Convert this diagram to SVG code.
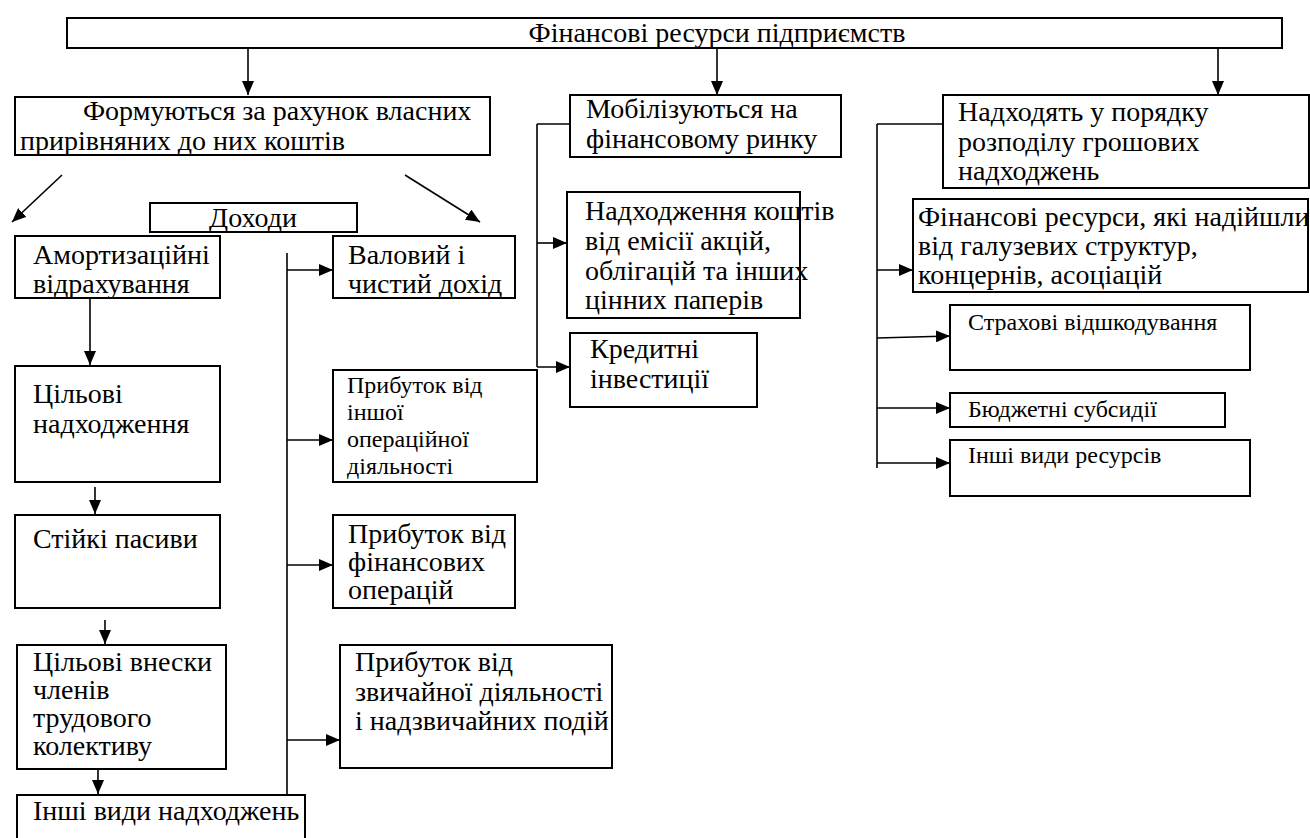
<svg xmlns="http://www.w3.org/2000/svg" width="1310" height="838" viewBox="0 0 1310 838">
<defs>
<marker id="ah" markerUnits="userSpaceOnUse" markerWidth="14" markerHeight="12" refX="14" refY="6" orient="auto"><path d="M0,0 L14,6 L0,12 z" fill="#000"/></marker>
<style>
.n rect{fill:#fff;stroke:#000;stroke-width:2}
.n text{font-family:"Liberation Serif","Times New Roman",serif;font-size:28px;fill:#000}
.n .s text{font-size:24px}
#connectors line{stroke:#000;stroke-width:1.6;fill:none}
#connectors .a line{marker-end:url(#ah)}
</style>
</defs>
<rect width="1310" height="838" fill="#fff"/>
<g id="connectors">
<g class="a">
<line x1="248" y1="48" x2="248" y2="95"/>
<line x1="717" y1="48" x2="717" y2="95"/>
<line x1="1218" y1="48" x2="1218" y2="95"/>
<line x1="62" y1="175" x2="12" y2="222"/>
<line x1="405" y1="175" x2="480" y2="222"/>
<line x1="90" y1="298" x2="90" y2="365"/>
<line x1="95" y1="487" x2="95" y2="514"/>
<line x1="105" y1="620" x2="105" y2="644"/>
<line x1="98" y1="770" x2="98" y2="794"/>
<line x1="287" y1="270" x2="333" y2="270"/>
<line x1="287" y1="440" x2="333" y2="440"/>
<line x1="287" y1="565" x2="333" y2="565"/>
<line x1="287" y1="740" x2="340" y2="740"/>
<line x1="537" y1="243" x2="567" y2="243"/>
<line x1="537" y1="367" x2="570" y2="367"/>
<line x1="877" y1="270" x2="913" y2="270"/>
<line x1="877" y1="338" x2="950" y2="336"/>
<line x1="877" y1="408" x2="950" y2="408"/>
<line x1="877" y1="463" x2="950" y2="463"/>
</g>
<line x1="287" y1="253" x2="287" y2="796"/>
<line x1="537" y1="124" x2="537" y2="367"/>
<line x1="537" y1="124" x2="570" y2="124"/>
<line x1="877" y1="124" x2="877" y2="468"/>
<line x1="877" y1="124" x2="943" y2="124"/>
</g>
<g class="n">
<g id="top"><rect x="67" y="18" width="1215" height="30"/><text x="717" y="42" text-anchor="middle">Фінансові ресурси підприємств</text></g>
<g id="own"><rect x="15" y="97" width="475" height="58"/><text x="83" y="120">Формуються за рахунок власних</text><text x="20" y="150">прирівняних до них коштів</text></g>
<g id="income"><rect x="150" y="203" width="207" height="29"/><text x="253" y="227" text-anchor="middle">Доходи</text></g>
<g id="amort"><rect x="15" y="236" width="205" height="62"/><text x="33" y="264">Амортизаційні</text><text x="33" y="293">відрахування</text></g>
<g id="target"><rect x="15" y="366" width="205" height="116"/><text x="33" y="403">Цільові</text><text x="33" y="433">надходження</text></g>
<g id="stable"><rect x="15" y="515" width="205" height="93"/><text x="33" y="548">Стійкі пасиви</text></g>
<g id="contrib"><rect x="17" y="645" width="209" height="124"/><text x="33" y="671">Цільові внески</text><text x="33" y="699">членів</text><text x="33" y="727">трудового</text><text x="33" y="755">колективу</text></g>
<g id="other-in"><rect x="17" y="795" width="288" height="50"/><text x="33" y="820">Інші види надходжень</text></g>
<g id="gross"><rect x="333" y="236" width="182" height="62"/><text x="348" y="264">Валовий і</text><text x="348" y="293">чистий дохід</text></g>
<g id="op" class="s"><rect x="333" y="370" width="204" height="112"/><text x="347" y="393">Прибуток від</text><text x="347" y="420">іншої</text><text x="347" y="447">операційної</text><text x="347" y="474">діяльності</text></g>
<g id="fin"><rect x="333" y="515" width="182" height="93"/><text x="348" y="543">Прибуток від</text><text x="348" y="571">фінансових</text><text x="348" y="599">операцій</text></g>
<g id="ord"><rect x="340" y="645" width="272" height="123"/><text x="355" y="671">Прибуток від</text><text x="355" y="701">звичайної діяльності</text><text x="355" y="730">і надзвичайних подій</text></g>
<g id="mob"><rect x="570" y="95" width="271" height="62"/><text x="586" y="118">Мобілізуються на</text><text x="586" y="148">фінансовому ринку</text></g>
<g id="emis"><rect x="567" y="192" width="233" height="126"/><text x="585" y="220">Надходження коштів</text><text x="585" y="250">від емісії акцій,</text><text x="585" y="280">облігацій та інших</text><text x="585" y="309">цінних паперів</text></g>
<g id="credit"><rect x="570" y="333" width="187" height="74"/><text x="590" y="358">Кредитні</text><text x="590" y="388">інвестиції</text></g>
<g id="distr"><rect x="943" y="95" width="366" height="93"/><text x="958" y="121">Надходять у порядку</text><text x="958" y="151">розподілу грошових</text><text x="958" y="180">надходжень</text></g>
<g id="branch"><rect x="913" y="199" width="395" height="93"/><text x="918" y="226">Фінансові ресурси, які надійшли</text><text x="918" y="255">від галузевих структур,</text><text x="918" y="284">концернів, асоціацій</text></g>
<g id="insur" class="s"><rect x="950" y="305" width="300" height="65"/><text x="968" y="330">Страхові відшкодування</text></g>
<g id="budget" class="s"><rect x="950" y="393" width="275" height="34"/><text x="968" y="417">Бюджетні субсидії</text></g>
<g id="other-res" class="s"><rect x="950" y="440" width="300" height="56"/><text x="968" y="463">Інші види ресурсів</text></g>
</g>
</svg>
